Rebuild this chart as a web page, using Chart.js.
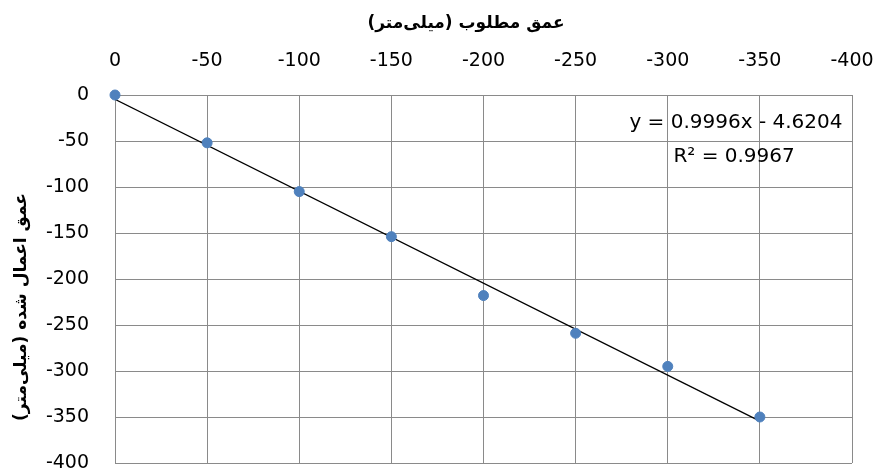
<!DOCTYPE html>
<html>
<head>
<meta charset="utf-8">
<script src="https://cdn.jsdelivr.net/npm/chart.js@4"></script>
<style>
html,body{margin:0;padding:0;background:#fff;overflow:hidden;}
</style>
</head>
<body>
<canvas id="c" width="878" height="471"></canvas>
<script>
// Data
const desiredDepth = [0, -50, -100, -150, -200, -250, -300, -350];
const appliedDepth = [0, -52, -105, -154, -218, -259, -295, -350];
const trendX = [0, -350];
const trendY = [-4.62, -354.48];
const xTickValues = [0, -50, -100, -150, -200, -250, -300, -350, -400];
const yTickValues = [0, -50, -100, -150, -200, -250, -300, -350, -400];
const xTitle = 'عمق مطلوب (میلی‌متر)';
const yTitle = 'عمق اعمال شده (میلی‌متر)';
const eqLine1 = 'y = 0.9996x - 4.6204';
const eqLine2 = 'R² = 0.9967';

const tickFont = {family: "'DejaVu Sans', sans-serif", size: 19};
const titleFont = "bold 17px 'DejaVu Sans'";

const overlay = {
  id: 'overlay',
  afterDraw(chart) {
    const ctx = chart.ctx;
    const xs = chart.scales.x, ys = chart.scales.y;
    ctx.save();
    ctx.fillStyle = '#000';
    ctx.textAlign = 'center';
    ctx.textBaseline = 'middle';
    ctx.font = titleFont;
    ctx.direction = 'rtl';
    ctx.fillText(xTitle, 466, 24);
    ctx.save();
    ctx.translate(22, 307);
    ctx.rotate(-Math.PI / 2);
    ctx.fillText(yTitle, 0, 0);
    ctx.restore();
    ctx.direction = 'ltr';
    ctx.font = "20px 'DejaVu Sans', sans-serif";
    ctx.fillText(eqLine1, xs.getPixelForValue(-337), ys.getPixelForValue(-30));
    ctx.fillText(eqLine2, xs.getPixelForValue(-336), ys.getPixelForValue(-67));
    ctx.restore();
  }
};

new Chart(document.getElementById('c'), {
  type: 'scatter',
  data: {
    datasets: [
      {
        type: 'line',
        data: trendX.map((x, i) => ({x: x, y: trendY[i]})),
        borderColor: '#000',
        borderWidth: 1.2,
        pointRadius: 0,
        fill: false,
        order: 2
      },
      {
        data: desiredDepth.map((x, i) => ({x: x, y: appliedDepth[i]})),
        backgroundColor: '#4F81BD',
        borderColor: '#4F81BD',
        pointRadius: 5,
        clip: false,
        order: 1
      }
    ]
  },
  options: {
    responsive: false,
    animation: false,
    devicePixelRatio: 1,
    layout: {padding: {left: 0, right: 26, top: 0, bottom: 8}},
    plugins: {legend: {display: false}, tooltip: {enabled: false}},
    scales: {
      x: {
        type: 'linear',
        position: 'top',
        reverse: true,
        min: -400, max: 0,
        afterBuildTicks(s) { s.ticks = xTickValues.map(v => ({value: v})); },
        afterFit(s) { s.height = 95; s.paddingLeft = 0; s.paddingRight = 0; },
        ticks: {font: tickFont, color: '#000', padding: 23, maxRotation: 0, autoSkip: false},
        grid: {color: '#8a8a8a', lineWidth: 1, drawTicks: false},
        border: {color: '#8a8a8a'}
      },
      y: {
        type: 'linear',
        min: -400, max: 0,
        afterBuildTicks(s) { s.ticks = yTickValues.map(v => ({value: v})); },
        afterFit(s) { s.width = 115; s.paddingTop = 0; s.paddingBottom = 0; },
        ticks: {font: tickFont, color: '#000', padding: 26, autoSkip: false},
        grid: {color: '#8a8a8a', lineWidth: 1, drawTicks: false},
        border: {color: '#8a8a8a'}
      }
    }
  },
  plugins: [overlay]
});
</script>
</body>
</html>
